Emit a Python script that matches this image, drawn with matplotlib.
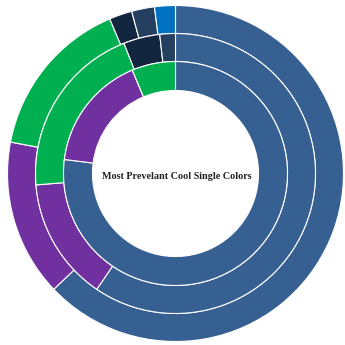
import matplotlib.pyplot as plt

# Ring data (share of each colour, clockwise from 12 o'clock)
outer_labels = ["Steel Blue", "Purple", "Green", "Navy", "Slate Blue", "Blue"]
outer_values = [62.9, 15.1, 15.6, 2.2, 2.2, 2.0]
middle_labels = ["Steel Blue", "Purple", "Green", "Navy", "Slate Blue"]
middle_values = [59.5, 14.2, 20.3, 4.2, 1.8]
inner_labels = ["Steel Blue", "Purple", "Green"]
inner_values = [77.0, 16.7, 6.3]

title = "Most Prevelant Cool Single Colors"

palette = {
    "Steel Blue": "#376092",
    "Purple": "#7030A0",
    "Green": "#00B050",
    "Navy": "#13263F",
    "Slate Blue": "#243F60",
    "Blue": "#0070C0",
}

fig = plt.figure(figsize=(3.45, 3.45), dpi=100)
ax = fig.add_axes([0, 0, 1, 1])
ax.set_aspect("equal")

R = 168.0
cx, cy = 175.5, 171.5  # pixel centre (from bottom-left)
ax.set_xlim(-cx / R, (345 - cx) / R)
ax.set_ylim(-cy / R, (345 - cy) / R)
ax.axis("off")

rings = [
    (outer_values, outer_labels, 1.0, 1.0 - 140 / R),
    (middle_values, middle_labels, 140 / R, (140 - 112) / R),
    (inner_values, inner_labels, 112 / R, (112 - 83) / R),
]
for vals, labs, radius, width in rings:
    ax.pie(vals, radius=radius, startangle=90, counterclock=False,
           colors=[palette[l] for l in labs],
           wedgeprops=dict(width=width, edgecolor="white", linewidth=0.8))

ax.set_xlim(-cx / R, (345 - cx) / R)
ax.set_ylim(-cy / R, (345 - cy) / R)

ax.text(0.01, -0.015, title, ha="center", va="center",
        fontsize=7.3, fontweight="bold", family="Liberation Serif", color="#222222")

fig.savefig("out.png", dpi=100)
